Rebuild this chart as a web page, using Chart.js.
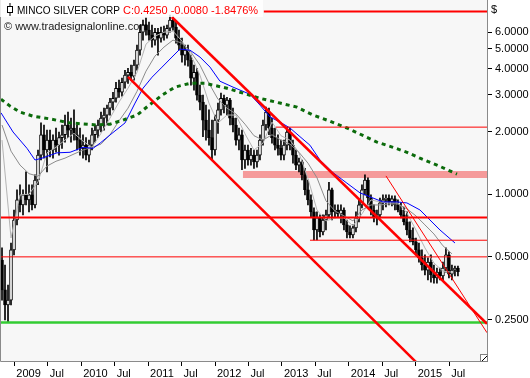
<!DOCTYPE html>
<html>
<head>
<meta charset="utf-8">
<script src="https://cdn.jsdelivr.net/npm/chart.js@4.4.1/dist/chart.umd.min.js"></script>
<style>
  html, body { margin: 0; padding: 0; background: #fff; }
</style>
</head>
<body>
<canvas id="chart" width="530" height="378"></canvas>
<script>
// bars: one every ~16 days, starting late Oct 2008 (fractional years)
const barStart = 2008.816
const barStep = 0.04484

const opens = [
  0.483, 0.347, 0.294, 0.310, 0.540, 0.752, 0.939, 0.888, 0.992, 0.939,
  0.992, 0.888, 1.17, 1.54, 1.93, 1.63, 1.82, 1.63, 1.82, 1.72,
  1.87, 1.93, 2.15, 2.03, 2.08, 1.93, 1.82, 1.66, 1.72, 1.54,
  1.72, 1.93, 2.03, 2.15, 2.32, 2.40, 2.59, 2.77, 2.89, 3.23,
  3.09, 3.45, 3.73, 3.85, 3.69, 4.17, 4.92, 6.00, 6.49, 6.14,
  5.81, 5.50, 6.00, 5.62, 6.00, 5.81, 6.27, 6.86, 6.35, 5.62,
  5.20, 4.66, 4.92, 4.41, 3.61, 3.85, 2.99, 2.77, 2.27, 2.03,
  1.87, 1.63, 2.27, 2.54, 2.89, 2.68, 2.83, 2.32, 2.15, 1.82,
  1.93, 1.46, 1.63, 1.46, 1.54, 1.43, 1.54, 1.82, 2.15, 2.48,
  2.08, 1.87, 1.72, 1.66, 1.54, 1.72, 1.99, 1.72, 1.54, 1.38,
  1.43, 1.24, 1.05, 0.939, 0.822, 0.673, 0.769, 0.658, 0.752, 0.795,
  1.05, 0.822, 0.840, 0.804, 0.840, 0.712, 0.658, 0.637, 0.689, 0.769,
  0.888, 1.05, 1.17, 0.959, 0.840, 0.769, 0.795, 0.908, 0.939, 0.959,
  0.918, 0.949, 0.888, 0.840, 0.795, 0.736, 0.673, 0.616, 0.590, 0.540,
  0.494, 0.457, 0.432, 0.472, 0.409, 0.396, 0.422, 0.405, 0.442, 0.511,
  0.413, 0.432, 0.442
]
const highs = [
  0.552, 0.457, 0.366, 0.583, 0.840, 1.05, 1.11, 1.05, 1.28, 1.11,
  1.11, 1.24, 1.63, 2.20, 2.15, 2.03, 2.03, 1.93, 2.08, 1.99,
  2.15, 2.40, 2.48, 2.32, 2.54, 2.15, 2.08, 1.93, 1.87, 1.82,
  2.08, 2.15, 2.27, 2.48, 2.59, 2.68, 2.89, 3.09, 3.45, 3.53,
  3.61, 3.94, 4.03, 4.17, 4.41, 5.20, 6.49, 6.86, 7.01, 6.71,
  6.49, 6.27, 6.27, 6.35, 6.42, 6.49, 7.25, 7.17, 6.71, 6.14,
  5.62, 5.20, 5.20, 4.66, 4.17, 4.03, 3.34, 2.99, 2.68, 2.54,
  2.27, 2.40, 2.74, 3.06, 2.99, 2.92, 2.89, 2.59, 2.32, 2.08,
  2.03, 1.72, 1.72, 1.66, 1.63, 1.63, 1.93, 2.27, 2.62, 2.59,
  2.32, 2.08, 1.93, 1.82, 1.82, 2.10, 2.08, 1.82, 1.63, 1.49,
  1.46, 1.33, 1.17, 0.992, 0.859, 0.822, 0.795, 0.795, 0.840, 1.14,
  1.07, 0.888, 0.888, 0.888, 0.859, 0.752, 0.704, 0.712, 0.822, 0.939,
  1.11, 1.24, 1.20, 0.992, 0.888, 0.840, 0.959, 0.992, 0.992, 0.992,
  0.981, 0.981, 0.939, 0.908, 0.868, 0.822, 0.736, 0.689, 0.616, 0.583,
  0.540, 0.511, 0.494, 0.511, 0.457, 0.442, 0.442, 0.472, 0.552, 0.528,
  0.457, 0.452, 0.452
]
const lows = [
  0.310, 0.249, 0.244, 0.294, 0.511, 0.712, 0.822, 0.795, 0.888, 0.822,
  0.840, 0.859, 1.11, 1.46, 1.49, 1.28, 1.51, 1.49, 1.59, 1.54,
  1.66, 1.78, 1.87, 1.78, 1.82, 1.63, 1.54, 1.49, 1.46, 1.43,
  1.63, 1.78, 1.87, 1.99, 2.03, 2.15, 2.40, 2.54, 2.77, 2.92,
  2.96, 3.23, 3.41, 3.53, 3.53, 3.94, 4.66, 5.50, 5.81, 5.50,
  5.09, 5.20, 4.66, 5.38, 5.50, 5.62, 6.00, 6.14, 5.32, 4.92,
  4.31, 4.17, 4.12, 3.34, 3.16, 2.83, 2.54, 1.89, 1.82, 1.72,
  1.46, 1.54, 1.96, 2.40, 2.46, 2.40, 2.15, 1.99, 1.72, 1.63,
  1.31, 1.33, 1.38, 1.38, 1.33, 1.35, 1.46, 1.72, 2.03, 1.93,
  1.76, 1.63, 1.54, 1.46, 1.46, 1.63, 1.63, 1.41, 1.31, 1.28,
  1.17, 0.992, 0.888, 0.778, 0.603, 0.603, 0.623, 0.637, 0.673, 0.769,
  0.752, 0.769, 0.778, 0.727, 0.673, 0.616, 0.616, 0.616, 0.658, 0.736,
  0.859, 0.992, 0.888, 0.795, 0.736, 0.712, 0.769, 0.840, 0.868, 0.888,
  0.878, 0.840, 0.822, 0.769, 0.712, 0.637, 0.590, 0.571, 0.511, 0.472,
  0.432, 0.409, 0.387, 0.378, 0.374, 0.374, 0.387, 0.387, 0.422, 0.396,
  0.387, 0.405, 0.405
]
const closes = [
  0.347, 0.294, 0.310, 0.540, 0.752, 0.939, 0.888, 0.992, 0.939, 0.992,
  0.888, 1.17, 1.54, 1.93, 1.63, 1.82, 1.63, 1.82, 1.72, 1.87,
  1.93, 2.15, 2.03, 2.08, 1.93, 1.82, 1.66, 1.72, 1.54, 1.72,
  1.93, 2.03, 2.15, 2.32, 2.40, 2.59, 2.77, 2.89, 3.23, 3.09,
  3.45, 3.73, 3.85, 3.69, 4.17, 4.92, 6.00, 6.49, 6.14, 5.81,
  5.50, 6.00, 5.62, 6.00, 5.81, 6.27, 6.86, 6.35, 5.62, 5.20,
  4.66, 4.92, 4.41, 3.61, 3.85, 2.99, 2.77, 2.27, 2.03, 1.87,
  1.63, 2.27, 2.54, 2.89, 2.68, 2.83, 2.32, 2.15, 1.82, 1.93,
  1.46, 1.63, 1.46, 1.54, 1.43, 1.54, 1.82, 2.15, 2.48, 2.08,
  1.87, 1.72, 1.66, 1.54, 1.72, 1.99, 1.72, 1.54, 1.38, 1.43,
  1.24, 1.05, 0.939, 0.822, 0.673, 0.769, 0.658, 0.752, 0.795, 1.05,
  0.822, 0.840, 0.804, 0.840, 0.712, 0.658, 0.637, 0.689, 0.769, 0.888,
  1.05, 1.17, 0.959, 0.840, 0.769, 0.795, 0.908, 0.939, 0.959, 0.918,
  0.949, 0.888, 0.840, 0.795, 0.736, 0.673, 0.616, 0.590, 0.540, 0.494,
  0.457, 0.432, 0.472, 0.409, 0.396, 0.422, 0.405, 0.442, 0.511, 0.413,
  0.432, 0.442, 0.425
]

// gray averages, read every 3rd bar
const grayEvery = 3
const grayFast = [
  1.82, 0.616, 0.992, 1.00, 1.145, 1.58, 1.68, 1.82, 1.96, 1.80,
  1.68, 1.96, 2.32, 2.77, 3.23, 3.85, 5.26, 5.75, 6.00, 6.07,
  5.44, 4.66, 3.73, 2.74, 2.20, 2.40, 2.40, 1.95, 1.63, 1.76,
  2.22, 1.91, 1.82, 1.58, 1.19, 0.840, 0.744, 0.769, 0.769, 0.704,
  0.804, 0.939, 0.918, 0.908, 0.908, 0.813, 0.673, 0.552, 0.467, 0.427,
  0.422
]
const graySlow = [
  2.15, 1.61, 1.38, 1.255, 1.22, 1.365, 1.44, 1.49, 1.56, 1.63,
  1.68, 1.74, 1.93, 2.25, 2.59, 3.12, 3.90, 4.61, 5.09, 5.50,
  5.32, 4.81, 4.17, 3.41, 2.86, 2.59, 2.43, 2.17, 1.91, 1.82,
  1.93, 1.82, 1.74, 1.59, 1.41, 1.20, 0.929, 0.831, 0.787, 0.744,
  0.840, 0.888, 0.888, 0.898, 0.898, 0.850, 0.787, 0.712, 0.644, 0.565,
  0.517
]

const blueX = [
  2008.801, 2008.981, 2009.190, 2009.309, 2009.414, 2009.638, 2009.833, 2010.027, 2010.176, 2010.283,
  2010.460, 2010.655, 2010.805, 2010.924, 2011.059, 2011.209, 2011.357, 2011.476, 2011.626, 2011.775,
  2011.925, 2012.074, 2012.269, 2012.523, 2012.672, 2012.822, 2012.971, 2013.121, 2013.270, 2013.419,
  2013.569, 2013.763, 2013.972, 2014.167, 2014.361, 2014.511, 2014.720, 2014.869, 2015.064, 2015.213,
  2015.363, 2015.587
]
const blueY = [
  2.46, 1.99, 1.66, 1.46, 1.49, 1.58, 1.59, 1.68, 1.66, 1.76,
  1.96, 2.20, 2.74, 3.23, 3.65, 4.08, 4.56, 4.98, 4.92, 4.56,
  4.08, 3.49, 3.27, 3.02, 2.68, 2.35, 2.22, 2.08, 1.89, 1.72,
  1.46, 1.27, 1.13, 1.015, 0.959, 0.918, 0.918, 0.908, 0.840, 0.752,
  0.673, 0.583
]

const greenX = [
  2008.801, 2008.936, 2009.085, 2009.280, 2009.534, 2009.833, 2010.236, 2010.430, 2010.625, 2010.834,
  2010.999, 2011.208, 2011.402, 2011.626, 2011.850, 2012.179, 2012.374, 2012.672, 2012.971, 2013.225,
  2013.465, 2013.674, 2013.973, 2014.421, 2014.660, 2014.870, 2015.064, 2015.318, 2015.617
]
const greenY = [
  2.86, 2.65, 2.48, 2.37, 2.30, 2.20, 2.15, 2.17, 2.27, 2.40,
  2.65, 2.99, 3.27, 3.41, 3.41, 3.23, 3.09, 2.89, 2.74, 2.62,
  2.40, 2.27, 2.08, 1.78, 1.68, 1.59, 1.49, 1.38, 1.25
]

// drawn trend and level lines: [start, end]
const channelUpperX = [2011.354, 2016.066]
const channelUpperY = [7.10, 0.2384]
const channelLowerX = [2010.700, 2015.214]
const channelLowerY = [3.66, 0.134]
const steepLineX = [2014.556, 2016.066]
const steepLineY = [1.224, 0.216]
const levelTop = 7.54
const levelTopX = [2012.73, 2016.1]
const level2 = 2.10
const level2X = [2012.91, 2016.1]
const zoneLevel = 1.245
const zoneX = [2012.418, 2016.1]
const level077 = 0.772
const level060 = 0.601
const level060X = [2013.42, 2016.1]
const level050 = 0.50
const supportLevel = 0.242
const fullX = [2008.7, 2016.1]

const xMin = 2008.786
const xMax = 2016.066
const yMin = 0.158
const yMax = 8.57
const xTickValues = [2009, 2009.5, 2010, 2010.5, 2011, 2011.5, 2012, 2012.5, 2013, 2013.5, 2014, 2014.5, 2015, 2015.5]
const xTickLabels = ['2009', 'Jul', '2010', 'Jul', '2011', 'Jul', '2012', 'Jul', '2013', 'Jul', '2014', 'Jul', '2015', 'Jul']
const yTickValues = [0.25, 0.5, 1, 2, 3, 4, 5, 6]

const titleName = 'MINCO SILVER CORP'
const titleQuote = 'C:0.4250 -0.0080 -1.8476%'
const copyright = '\u00a9 www.tradesignalonline.com'

const barDate = i => barStart + i * barStep
const FONT = '"Liberation Sans", Arial, sans-serif'

Chart.defaults.font.family = FONT
Chart.defaults.font.size = 11
Chart.defaults.color = '#000'

const line = (xs, ys, color, width, order, dash) => ({
  type: 'line',
  data: xs.map((x, i) => ({ x, y: ys[i] })),
  borderColor: color,
  borderWidth: width,
  borderDash: dash || [],
  borderCapStyle: 'butt',
  pointRadius: 0,
  fill: false,
  tension: 0,
  order
})
const level = (xs, value, color, width, order) => line(xs, [value, value], color, width, order)

const wicks = lows.map((l, i) => ({ x: barDate(i), y: [l, highs[i]] }))
const bodies = opens.map((o, i) => ({ x: barDate(i), y: [o, closes[i]] }))
const bodyColors = opens.map((o, i) => closes[i] >= o ? '#ffffff' : '#000000')

const frame = {
  id: 'frame',
  beforeDraw(chart) {
    const { ctx, chartArea: a } = chart
    ctx.save()
    ctx.fillStyle = '#f7f7f7'
    ctx.fillRect(a.left, a.top, a.right - a.left, a.bottom - a.top)
    ctx.font = '11px ' + FONT
    ctx.fillStyle = '#1a1a1a'
    ctx.fillText(copyright, 4, 30)
    ctx.restore()
  },
  afterDraw(chart) {
    const { ctx, chartArea: a } = chart
    ctx.save()
    // frame
    ctx.strokeStyle = '#8a8a8a'
    ctx.lineWidth = 1
    ctx.beginPath()
    ctx.moveTo(0.5, a.top)
    ctx.lineTo(0.5, a.bottom + 0.5)
    ctx.lineTo(a.right + 0.5, a.bottom + 0.5)
    ctx.lineTo(a.right + 0.5, a.top)
    ctx.stroke()
    // resize corner
    ctx.fillStyle = '#fff'
    ctx.fillRect(a.right - 6.5, a.bottom - 6.5, 7, 7)
    ctx.strokeStyle = '#808080'
    ctx.strokeRect(a.right - 6.5, a.bottom - 6.5, 7, 7)
    ctx.strokeStyle = '#000'
    ctx.beginPath()
    ctx.moveTo(a.right - 5, a.bottom)
    ctx.lineTo(a.right, a.bottom - 5)
    ctx.stroke()
    // title box
    ctx.fillStyle = 'rgba(255,255,255,0.82)'
    ctx.fillRect(0, 0, 263, 17)
    ctx.strokeStyle = '#000'
    ctx.beginPath()
    ctx.moveTo(10, 3)
    ctx.lineTo(10, 16)
    ctx.stroke()
    ctx.fillStyle = '#fff'
    ctx.fillRect(7.5, 6.5, 5, 6)
    ctx.strokeRect(7.5, 6.5, 5, 6)
    ctx.font = '11px ' + FONT
    ctx.fillStyle = '#000'
    ctx.fillText(titleName, 17, 14, 103)
    ctx.fillStyle = '#ff0000'
    ctx.fillText(titleQuote, 123, 14)
    ctx.fillStyle = '#000'
    ctx.fillText('$', 491, 13)
    ctx.restore()
  }
}

const noPad = s => {
  s.paddingLeft = 0
  s.paddingRight = 0
  s.paddingTop = 0
  s.paddingBottom = 0
}

new Chart(document.getElementById('chart'), {
  type: 'bar',
  data: {
    datasets: [
      level(zoneX, zoneLevel, '#f59a9a', 7, 20),
      { type: 'bar', data: wicks, backgroundColor: '#000', borderWidth: 0, barThickness: 1, grouped: false, order: 12 },
      { type: 'bar', data: bodies, backgroundColor: bodyColors, borderColor: '#000', borderWidth: 1, borderSkipped: false, barThickness: 3, grouped: false, order: 11 },
      line(grayFast.map((v, k) => barDate(k * grayEvery)), grayFast, '#b4b4b4', 1, 9),
      line(graySlow.map((v, k) => barDate(k * grayEvery)), graySlow, '#8c8c8c', 1, 8),
      line(blueX, blueY, '#0000ff', 1, 7),
      line(greenX, greenY, '#0b6b0b', 3, 6, [4, 4]),
      level(levelTopX, levelTop, '#ff0000', 2, 3),
      level(level2X, level2, '#ff0000', 1, 3),
      level(fullX, level077, '#ff0000', 2, 3),
      level(level060X, level060, '#ff0000', 1, 3),
      level(fullX, level050, '#ff0000', 1, 3),
      level(fullX, supportLevel, '#33cc33', 2.5, 3),
      line(channelUpperX, channelUpperY, '#ff0000', 2.5, 2),
      line(channelLowerX, channelLowerY, '#ff0000', 2.5, 2),
      line(steepLineX, steepLineY, '#ff0000', 1, 2)
    ]
  },
  options: {
    responsive: false,
    animation: false,
    events: [],
    layout: { padding: 0 },
    plugins: { legend: { display: false }, tooltip: { enabled: false } },
    scales: {
      x: {
        type: 'linear',
        min: xMin,
        max: xMax,
        bounds: 'data',
        offset: false,
        border: { display: false },
        grid: { drawOnChartArea: false, drawTicks: true, tickLength: 5, color: '#000', offset: false },
        ticks: {
          autoSkip: false,
          maxRotation: 0,
          align: 'start',
          labelOffset: 2,
          padding: 1,
          callback: (v, i) => xTickLabels[i]
        },
        afterBuildTicks: s => { s.ticks = xTickValues.map(value => ({ value })) },
        afterFit: s => { s.height = 17; noPad(s) }
      },
      y: {
        type: 'logarithmic',
        position: 'right',
        min: yMin,
        max: yMax,
        bounds: 'data',
        border: { display: false },
        grid: { drawOnChartArea: false, drawTicks: true, tickLength: 5, color: '#000' },
        ticks: {
          autoSkip: false,
          padding: 3,
          callback: v => Number(v).toFixed(4)
        },
        afterBuildTicks: s => { s.ticks = yTickValues.map(value => ({ value })) },
        afterFit: s => { s.width = 43; noPad(s) }
      }
    }
  },
  plugins: [frame]
})
</script>
</body>
</html>
